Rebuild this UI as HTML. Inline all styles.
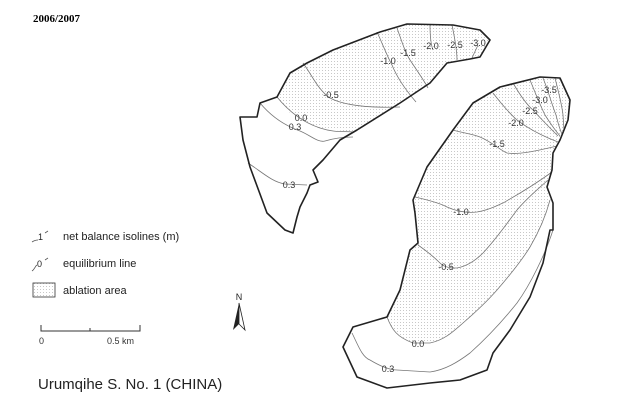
<!DOCTYPE html>
<html><head><meta charset="utf-8"><style>
html,body{margin:0;padding:0;background:#fff;}
svg{display:block;font-family:"Liberation Sans",sans-serif;}
</style></head><body>
<svg width="640" height="403" viewBox="0 0 640 403" xmlns="http://www.w3.org/2000/svg">
<defs>
<pattern id="st" width="3" height="3" patternUnits="userSpaceOnUse">
<rect x="1" y="1" width="1" height="1" fill="#c8c8c8"/>
</pattern>
</defs>
<text x="33" y="22" font-family="Liberation Serif,serif" font-weight="bold" font-size="11">2006/2007</text>

<!-- West glacier -->
<path d="M240,117 L257,117 L260,103 L277,97 L290,73 L307,63 L333,50 L380,32 L407,24 L453,25 L480,30 L490,40 L480,57 L470,59 L447,63 L430,83 L400,103 L357,130 L340,140 L323,160 L313,170 L318,182 L310,185 L307,193 L300,207 L297,217 L293,233 L285,230 L267,213 L250,167 L243,140 Z" fill="url(#st)"/>
<path d="M277,97 L290,113 L307,123 L320,128 L353,132 L340,140 L323,160 L313,170 L318,182 L310,185 L307,193 L300,207 L297,217 L293,233 L285,230 L267,213 L250,167 L243,140 L240,117 L257,117 L260,103 Z" fill="#fff"/>
<g fill="none" stroke="#777" stroke-width="0.8">
<path d="M277,97 C290,113 305,123 320,128 S345,131 353,132"/>
<path d="M260,103 C270,115 283,125 300,131 C310,135 318,143 325,141 C335,138 345,137 353,137"/>
<path d="M248,163 C262,172 272,182 285,184 L307,185"/>
<path d="M303,63 C312,75 318,90 330,98 C345,106 370,108 400,107"/>
<path d="M377,32 C383,45 388,58 392,65 C398,80 410,95 416,102"/>
<path d="M397,28 C402,42 405,52 410,60 C418,72 425,82 428,88"/>
<path d="M430,24 C430,35 431,45 433,50"/>
<path d="M452,25 C454,35 457,48 457,60"/>
<path d="M478,45 L472,58"/>
</g>
<path d="M240,117 L257,117 L260,103 L277,97 L290,73 L307,63 L333,50 L380,32 L407,24 L453,25 L480,30 L490,40 L480,57 L470,59 L447,63 L430,83 L400,103 L357,130 L340,140 L323,160 L313,170 L318,182 L310,185 L307,193 L300,207 L297,217 L293,233 L285,230 L267,213 L250,167 L243,140 Z" fill="none" stroke="#222" stroke-width="1.6" stroke-linejoin="round"/>

<!-- East glacier -->
<path d="M413,200 L427,167 L453,130 L473,103 L500,87 L540,77 L560,78 L570,100 L568,120 L560,140 L553,153 L552,170 L547,187 L553,203 L553,230 L550,230 L543,263 L530,297 L510,330 L493,353 L487,370 L460,380 L430,383 L387,388 L357,377 L343,347 L353,327 L387,317 L400,290 L410,250 L418,243 L415,213 Z" fill="url(#st)"/>
<path d="M387,317 C392,330 397,337 413,343 L430,343 C445,340 455,330 463,323 C478,310 490,298 497,290 C510,275 522,260 530,247 C540,230 546,215 550,200 L553,203 L553,230 L550,230 L543,263 L530,297 L510,330 L493,353 L487,370 L460,380 L430,383 L387,388 L357,377 L343,347 L353,327 Z" fill="#fff"/>
<g fill="none" stroke="#777" stroke-width="0.8">
<path d="M387,317 C392,330 397,337 413,343 L430,343 C445,340 455,330 463,323 C478,310 490,298 497,290 C510,275 522,260 530,247 C540,230 546,215 550,200"/>
<path d="M352,333 C358,345 362,357 370,360 C380,366 390,370 397,370 L430,372 C445,370 458,362 470,353 C490,335 505,318 517,303 C530,285 545,255 553,230"/>
<path d="M418,245 C428,252 435,258 440,263 C445,268 452,268 457,268 C468,266 476,260 483,253 C497,238 508,222 517,210 C527,198 537,190 548,180"/>
<path d="M415,197 C428,200 440,203 447,207 C458,212 468,213 477,212 C490,210 498,205 503,203 C515,196 530,188 552,172"/>
<path d="M453,130 C463,133 472,134 480,137 C492,142 500,150 507,153 C520,155 540,150 557,146"/>
<path d="M493,93 C500,102 508,112 517,120 C530,130 545,137 558,142"/>
<path d="M513,83 C520,95 527,105 533,110 C542,120 550,128 558,136"/>
<path d="M530,80 C535,92 540,105 545,115 C550,123 555,130 560,136"/>
<path d="M543,78 C548,90 552,105 556,115 C558,123 560,130 562,134"/>
<path d="M555,78 C558,90 562,105 563,115 L564,130"/>
</g>
<path d="M413,200 L427,167 L453,130 L473,103 L500,87 L540,77 L560,78 L570,100 L568,120 L560,140 L553,153 L552,170 L547,187 L553,203 L553,230 L550,230 L543,263 L530,297 L510,330 L493,353 L487,370 L460,380 L430,383 L387,388 L357,377 L343,347 L353,327 L387,317 L400,290 L410,250 L418,243 L415,213 Z" fill="none" stroke="#222" stroke-width="1.6" stroke-linejoin="round"/>

<!-- Labels -->
<g font-size="9" fill="#333" text-anchor="middle">
<text x="331" y="98">-0.5</text>
<text x="301" y="121">0.0</text>
<text x="295" y="130">0.3</text>
<text x="289" y="188">0.3</text>
<text x="388" y="64">-1.0</text>
<text x="408" y="56">-1.5</text>
<text x="431" y="49">-2.0</text>
<text x="455" y="48">-2.5</text>
<text x="478" y="46">-3.0</text>
<text x="549" y="93">-3.5</text>
<text x="540" y="103">-3.0</text>
<text x="530" y="114">-2.5</text>
<text x="516" y="126">-2.0</text>
<text x="497" y="147">-1.5</text>
<text x="461" y="215">-1.0</text>
<text x="446" y="270">-0.5</text>
<text x="418" y="347">0.0</text>
<text x="388" y="372">0.3</text>
</g>

<!-- Legend -->
<g font-size="11" fill="#222">
<path d="M32,242 C35,240 37,240 38,240" stroke="#555" fill="none" stroke-width="0.8"/>
<text x="38" y="240" font-size="9">1</text>
<path d="M45,233 L48,231" stroke="#555" stroke-width="0.8"/>
<text x="63" y="240">net balance isolines (m)</text>
<path d="M32,271 C35,269 35,266 37,265" stroke="#555" fill="none" stroke-width="0.8"/>
<text x="37" y="267" font-size="9">0</text>
<path d="M45,260 L48,258" stroke="#555" stroke-width="0.8"/>
<text x="63" y="267">equilibrium line</text>
<rect x="33" y="283" width="22" height="14" fill="url(#st)" stroke="#333" stroke-width="0.8"/>
<text x="63" y="294">ablation area</text>
</g>
<g stroke="#333" stroke-width="1" fill="none">
<path d="M41,325 L41,331 L140,331 L140,325 M90,328 L90,331"/>
</g>
<text x="39" y="344" font-size="9" fill="#333">0</text>
<text x="107" y="344" font-size="9" fill="#333">0.5 km</text>
<text x="239" y="300" font-size="9" text-anchor="middle" fill="#222">N</text>
<path d="M239,303 L233,330 L239,324 Z" fill="#222"/>
<path d="M239,303 L245,330 L239,324 Z" fill="#fff" stroke="#222" stroke-width="0.8"/>
<text x="38" y="389" font-size="15" fill="#222">Urumqihe S. No. 1 (CHINA)</text>
</svg>
</body></html>
